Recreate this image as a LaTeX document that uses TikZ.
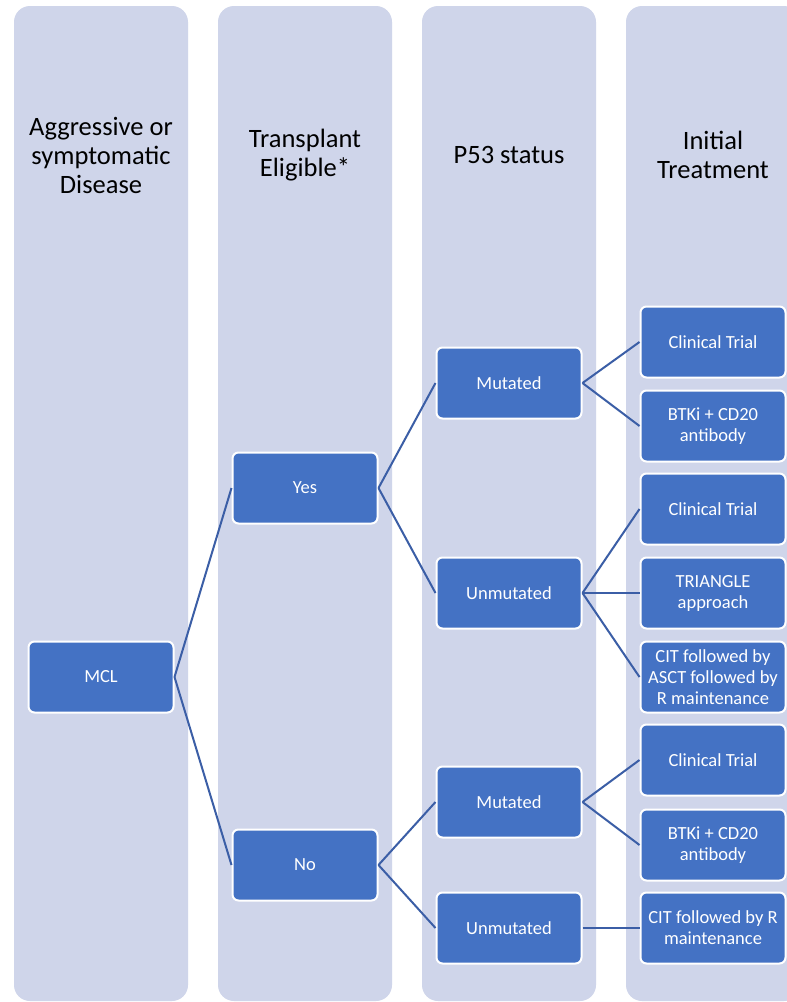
\documentclass[tikz,border=0pt]{standalone}
\usepackage{fontspec}
\setmainfont{Carlito}
\definecolor{colbg}{HTML}{CFD5EA}
\definecolor{nodebl}{HTML}{4472C4}
\definecolor{linebl}{HTML}{3B5EA6}
\begin{document}
\begin{tikzpicture}[x=1pt,y=-1pt,
  colbox/.style={fill=colbg, rounded corners=16pt, minimum width=174pt, minimum height=995pt, inner sep=0pt},
  hdr/.style={font=\fontsize{26.5}{29}\selectfont, align=center, text=black},
  box/.style={fill=nodebl, draw=white, line width=2pt, rounded corners=6pt, minimum width=145pt, minimum height=71pt, text=white, align=center, font=\fontsize{18.5}{21}\selectfont, inner sep=1pt},
  conn/.style={draw=linebl, line width=2pt}]
\useasboundingbox (0,0) rectangle (787,1002);
\fill[white] (0,0) rectangle (787,1002);
% columns
\node[colbox] (c1) at (101,503.5) {};
\node[colbox] (c2) at (305,503.5) {};
\node[colbox] (c3) at (509,503.5) {};
\node[colbox] (c4) at (713,503.5) {};
% headers
\node[hdr] (h1) at (101,155) {Aggressive or\\symptomatic\\Disease};
\node[hdr] (h2) at (305,155) {Transplant\\Eligible*};
\node[hdr] (h3) at (509,155) {P53 status};
\node[hdr] (h4) at (713,155) {Initial\\Treatment};
% nodes
\node[box] (mcl) at (101,677) {MCL};
\node[box] (yes) at (305,488) {Yes};
\node[box] (no) at (305,865) {No};
\node[box] (mut1) at (509,383) {Mutated};
\node[box] (unm1) at (509,593) {Unmutated};
\node[box] (mut2) at (509,802) {Mutated};
\node[box] (unm2) at (509,928) {Unmutated};
\node[box] (ct1) at (713,342) {Clinical Trial};
\node[box] (btk1) at (713,426) {BTKi + CD20\\antibody};
\node[box] (ct2) at (713,509) {Clinical Trial};
\node[box] (tri) at (713,593) {TRIANGLE\\approach};
\node[box] (cit) at (713,677) {CIT followed by\\ASCT followed by\\R maintenance};
\node[box] (ct3) at (713,760) {Clinical Trial};
\node[box] (btk2) at (713,845) {BTKi + CD20\\antibody};
\node[box] (citr) at (713,928) {CIT followed by R\\maintenance};
% connectors
\draw[conn] (mcl.east) -- (yes.west);
\draw[conn] (mcl.east) -- (no.west);
\draw[conn] (yes.east) -- (mut1.west);
\draw[conn] (yes.east) -- (unm1.west);
\draw[conn] (no.east) -- (mut2.west);
\draw[conn] (no.east) -- (unm2.west);
\draw[conn] (mut1.east) -- (ct1.west);
\draw[conn] (mut1.east) -- (btk1.west);
\draw[conn] (unm1.east) -- (ct2.west);
\draw[conn] (unm1.east) -- (tri.west);
\draw[conn] (unm1.east) -- (cit.west);
\draw[conn] (mut2.east) -- (ct3.west);
\draw[conn] (mut2.east) -- (btk2.west);
\draw[conn] (unm2.east) -- (citr.west);
\end{tikzpicture}
\end{document}
